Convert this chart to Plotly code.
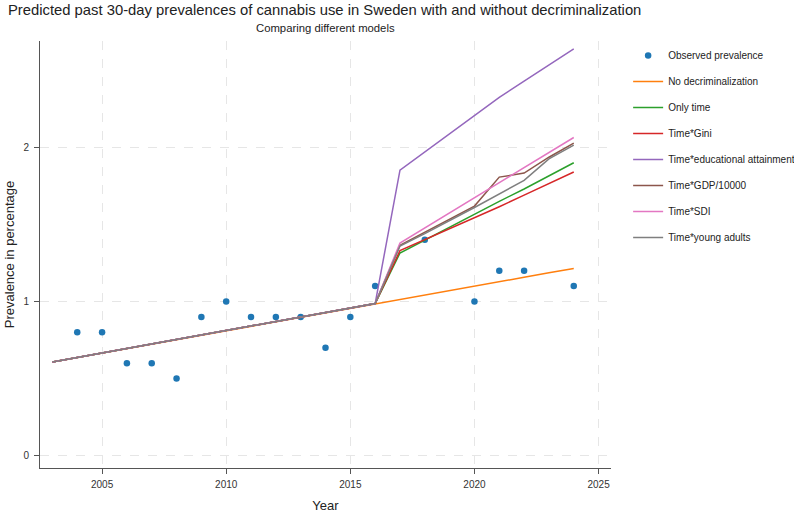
import plotly.graph_objects as go

# Observed data
obs_years = [2004, 2005, 2006, 2007, 2008, 2009, 2010, 2011, 2012, 2013, 2014, 2015, 2016, 2018, 2020, 2021, 2022, 2024]
obs_values = [0.8, 0.8, 0.6, 0.6, 0.5, 0.9, 1.0, 0.9, 0.9, 0.9, 0.7, 0.9, 1.1, 1.4, 1.0, 1.2, 1.2, 1.1]

# Model predictions
model_years = [2003, 2016, 2017, 2018, 2020, 2021, 2022, 2023, 2024]
no_decrim = [0.608, 0.987, 1.015, 1.044, 1.100, 1.129, 1.157, 1.186, 1.214]
only_time = [0.608, 0.987, 1.315, 1.400, 1.565, 1.650, 1.730, 1.815, 1.900]
time_gini = [0.608, 0.987, 1.330, 1.400, 1.540, 1.615, 1.690, 1.765, 1.840]
time_edu = [0.608, 0.987, 1.852, 1.970, 2.205, 2.324, 2.430, 2.535, 2.639]
time_gdp = [0.608, 0.987, 1.365, 1.450, 1.619, 1.807, 1.833, 1.936, 2.028]
time_sdi = [0.608, 0.987, 1.379, 1.477, 1.670, 1.770, 1.868, 1.966, 2.064]
time_young = [0.608, 0.987, 1.360, 1.440, 1.610, 1.700, 1.786, 1.925, 2.015]

model_names = ["No decriminalization", "Only time", "Time*Gini", "Time*educational attainment",
               "Time*GDP/10000", "Time*SDI", "Time*young adults"]
model_values = [no_decrim, only_time, time_gini, time_edu, time_gdp, time_sdi, time_young]
model_colors = ["#ff7f0e", "#2ca02c", "#d62728", "#9467bd", "#8c564b", "#e377c2", "#7f7f7f"]

FONT = "Liberation Sans, Arial, sans-serif"

fig = go.Figure()
fig.add_trace(go.Scatter(x=obs_years, y=obs_values, mode="markers", name="Observed prevalence",
                         marker=dict(color="#1f77b4", size=6.5), legendgroup="g0"))
for i, (n, v, c) in enumerate(zip(model_names, model_values, model_colors)):
    fig.add_trace(go.Scatter(x=model_years, y=v, mode="lines", name=n,
                             line=dict(color=c, width=1.5), legendgroup=f"g{i+1}"))

axis_common = dict(showline=True, linecolor="#555555", linewidth=1, ticks="outside", ticklen=5,
                   tickcolor="#555555", showgrid=True, gridcolor="#e6e6e6", griddash="dash",
                   gridwidth=1, zeroline=False, automargin=False,
                   tickfont=dict(size=10, color="#333333", family=FONT))

fig.update_layout(
    width=794, height=513,
    margin=dict(l=40, r=183, t=41, b=45, autoexpand=False),
    plot_bgcolor="white", paper_bgcolor="white",
    font=dict(family=FONT, color="#222222"),
    title=dict(text="Predicted past 30-day prevalences of cannabis use in Sweden with and without decriminalization",
               x=8/794, xref="container", xanchor="left", y=1-10/513, yref="container", yanchor="middle",
               font=dict(size=14.8, color="#222222", family=FONT)),
    xaxis=dict(range=[2002.5, 2025.5], tickvals=[2005, 2010, 2015, 2020, 2025], ticklabelstandoff=2,
               title=dict(text="Year", font=dict(size=13, color="#222222"), standoff=15), **axis_common),
    yaxis=dict(range=[-0.08, 2.69], tickvals=[0, 1, 2], ticklabelstandoff=3,
               title=dict(text="Prevalence in percentage", font=dict(size=13, color="#222222"), standoff=5),
               **axis_common),
    legend=dict(x=1.03, xanchor="left", y=1.0, yanchor="top", font=dict(size=10, color="#222222"),
                tracegroupgap=7, traceorder="grouped", bgcolor="rgba(0,0,0,0)"),
    annotations=[dict(text="Comparing different models", xref="paper", yref="paper", x=0.5, y=1+13/427,
                      xanchor="center", yanchor="middle", showarrow=False,
                      font=dict(size=11.3, color="#222222", family=FONT))],
)

fig.write_html("out.html")
